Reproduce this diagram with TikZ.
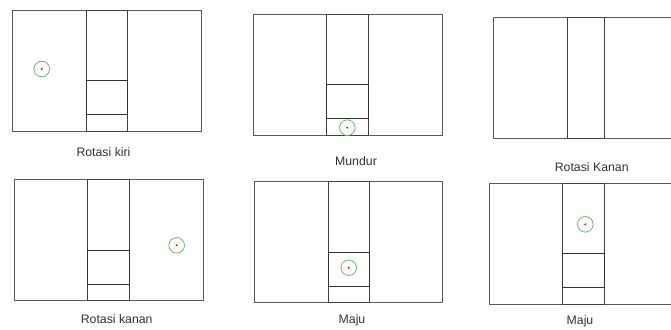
\documentclass[tikz,border=0pt]{standalone}
\usepackage{fontspec}
\setmainfont{Liberation Sans}
\begin{document}
\begin{tikzpicture}[x=1pt,y=-1pt,
  frame/.style={draw=black!65,line width=0.9pt},
  lane/.style={draw=black!75,line width=0.9pt},
  cell/.style={draw=black!80,line width=0.9pt},
  ring/.style={draw=green!55!black!55!white,line width=0.9pt},
  dot/.style={fill=red},
  caption/.style={font=\fontsize{12.3}{14}\selectfont,text=black!80,inner sep=0pt}]
\useasboundingbox (0,0) rectangle (671,329);
\clip (0,0) rectangle (671,329);
% Panel 1
\draw[frame] (12.3,10.3) rectangle (201,131);
\draw[lane] (86,10.3) rectangle (127.3,131);
\draw[cell] (86,80) rectangle (127.3,114.3);
\draw[ring] (41.7,69) circle (7.8);
\fill[dot] (41.7,69) circle (1.1);
\node[caption] (c1) at (103.5,152) {Rotasi kiri};
% Panel 2
\draw[frame] (253.7,14) rectangle (442.3,135);
\draw[lane] (326.7,14) rectangle (368.3,135);
\draw[cell] (326.7,84.3) rectangle (368.3,118.3);
\draw[ring] (347.3,127.7) circle (7.8);
\fill[dot] (347.3,127.7) circle (1.1);
\node[caption] (c2) at (356,161) {Mundur};
% Panel 3
\draw[frame] (493.3,17.7) rectangle (690,138.3);
\draw[lane] (567.7,17.7) rectangle (604.3,138.3);
\node[caption] (c3) at (591.7,166.7) {Rotasi Kanan};
% Panel 4
\draw[frame] (14.7,179.7) rectangle (203.7,300.7);
\draw[lane] (87.7,179.7) rectangle (129.3,300.7);
\draw[cell] (87.7,250.3) rectangle (129.3,284);
\draw[ring] (176.7,245.3) circle (7.8);
\fill[dot] (176.7,245.3) circle (1.1);
\node[caption] (c4) at (116.7,319) {Rotasi kanan};
% Panel 5
\draw[frame] (254,181.3) rectangle (442.3,302.3);
\draw[lane] (328.3,181.3) rectangle (369.7,302.3);
\draw[cell] (328.3,252.3) rectangle (369.7,286.3);
\draw[ring] (348.7,267.7) circle (7.8);
\fill[dot] (348.7,267.7) circle (1.1);
\node[caption] (c5) at (352,320) {Maju};
% Panel 6
\draw[frame] (489.7,183.3) rectangle (690,304);
\draw[lane] (562,183.3) rectangle (604,304);
\draw[cell] (562,253.3) rectangle (604,287.7);
\draw[ring] (585.3,224.3) circle (7.8);
\fill[dot] (585.3,224.3) circle (1.1);
\node[caption] (c6) at (580,321.7) {Maju};
\end{tikzpicture}
\end{document}
